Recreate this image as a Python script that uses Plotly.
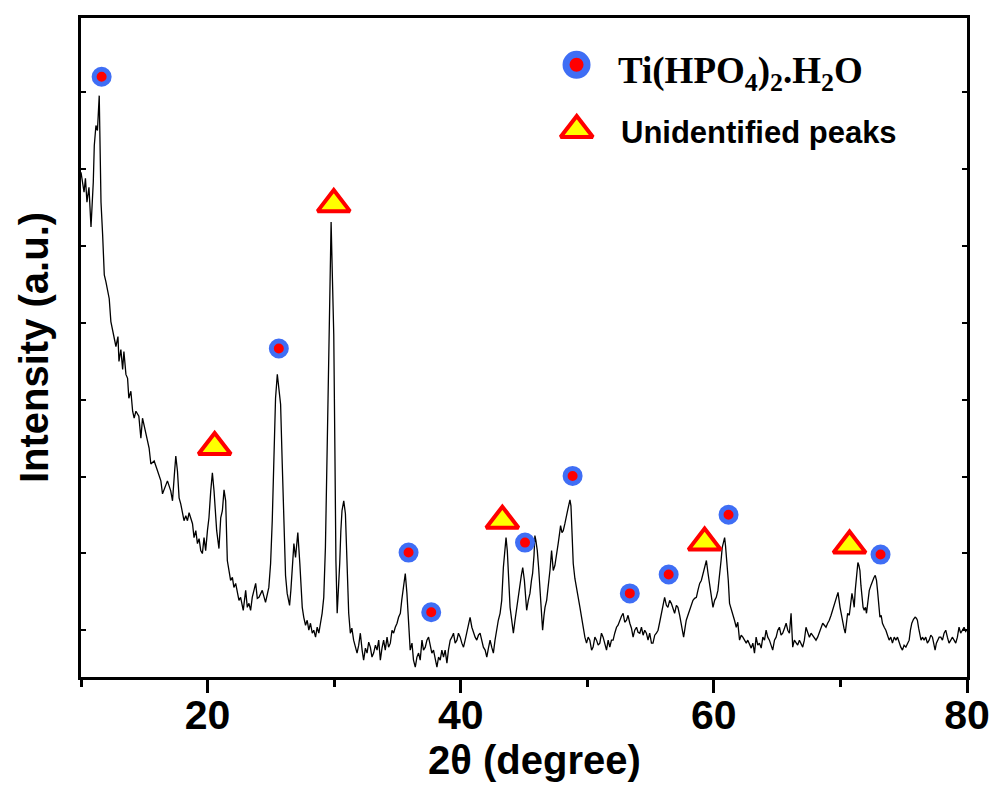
import plotly.graph_objects as go

# ---------------- data ----------------
two_theta = [
    10.00, 10.24, 10.35, 10.47, 10.63, 10.79, 10.97, 11.05, 11.18, 11.30, 11.44, 11.58, 11.71, 11.84, 11.97,
    12.09, 12.23, 12.36, 12.52, 12.60, 12.76, 12.92, 13.00, 13.15, 13.29, 13.39, 13.55, 13.68, 13.78, 13.94,
    14.08, 14.20, 14.34, 14.57, 14.73, 14.86, 15.12, 15.38, 15.52, 15.78, 16.05, 16.31, 16.44, 16.70, 16.83,
    17.09, 17.23, 17.37, 17.49, 17.62, 17.75, 17.88, 18.14, 18.28, 18.41, 18.54, 18.81, 18.93, 19.07, 19.20,
    19.33, 19.46, 19.59, 19.72, 19.85, 19.99, 20.11, 20.25, 20.38, 20.51, 20.72, 20.90, 21.04, 21.17, 21.30,
    21.43, 21.56, 21.69, 21.82, 21.96, 22.08, 22.22, 22.35, 22.48, 22.61, 22.82, 23.01, 23.14, 23.27, 23.40,
    23.53, 23.80, 23.93, 24.06, 24.32, 24.58, 24.84, 24.98, 25.11, 25.24, 25.37, 25.51, 25.63, 25.77, 25.90,
    26.03, 26.16, 26.29, 26.48, 26.58, 26.69, 26.82, 26.95, 27.13, 27.29, 27.48, 27.60, 27.74, 27.87, 28.00,
    28.13, 28.27, 28.39, 28.53, 28.66, 28.79, 28.92, 29.05, 29.18, 29.31, 29.45, 29.57, 29.67, 29.76, 29.87,
    29.97, 30.06, 30.14, 30.24, 30.34, 30.44, 30.53, 30.62, 30.76, 30.89, 31.02, 31.15, 31.28, 31.40, 31.54,
    31.68, 31.81, 31.94, 32.07, 32.21, 32.33, 32.47, 32.60, 32.73, 32.86, 32.99, 33.12, 33.26, 33.39, 33.52,
    33.65, 33.78, 33.91, 34.04, 34.18, 34.30, 34.44, 34.57, 34.70, 34.83, 34.97, 35.09, 35.23, 35.34, 35.44,
    35.53, 35.62, 35.75, 35.88, 36.01, 36.15, 36.27, 36.41, 36.54, 36.67, 36.80, 36.94, 37.06, 37.20, 37.33,
    37.46, 37.59, 37.72, 37.85, 37.98, 38.12, 38.25, 38.38, 38.51, 38.64, 38.77, 38.91, 39.03, 39.17, 39.30,
    39.43, 39.56, 39.70, 39.82, 39.96, 40.09, 40.22, 40.35, 40.48, 40.61, 40.74, 40.88, 41.00, 41.14, 41.27,
    41.40, 41.53, 41.67, 41.79, 41.93, 42.06, 42.19, 42.32, 42.45, 42.58, 42.71, 42.85, 42.97, 43.11, 43.24,
    43.37, 43.48, 43.58, 43.68, 43.76, 43.90, 44.03, 44.16, 44.29, 44.42, 44.55, 44.69, 44.79, 44.90, 45.03,
    45.12, 45.21, 45.34, 45.47, 45.59, 45.68, 45.79, 45.86, 45.94, 46.05, 46.16, 46.26, 46.36, 46.47, 46.58,
    46.66, 46.79, 46.92, 47.05, 47.18, 47.31, 47.44, 47.58, 47.70, 47.84, 47.89, 48.00, 48.10, 48.23, 48.31,
    48.42, 48.49, 48.56, 48.63, 48.71, 48.76, 48.83, 48.89, 49.02, 49.16, 49.28, 49.42, 49.55, 49.68, 49.81,
    49.94, 50.07, 50.20, 50.34, 50.46, 50.60, 50.73, 50.86, 50.99, 51.12, 51.25, 51.39, 51.52, 51.65, 51.78,
    51.91, 52.04, 52.17, 52.31, 52.43, 52.57, 52.70, 52.83, 52.96, 53.10, 53.22, 53.36, 53.49, 53.62, 53.75,
    53.89, 54.01, 54.15, 54.28, 54.41, 54.54, 54.67, 54.80, 54.93, 55.07, 55.19, 55.33, 55.46, 55.59, 55.72,
    55.85, 55.98, 56.11, 56.25, 56.37, 56.51, 56.64, 56.77, 56.90, 57.04, 57.16, 57.30, 57.43, 57.61, 57.72,
    57.82, 57.95, 58.09, 58.22, 58.35, 58.48, 58.62, 58.74, 58.88, 59.01, 59.14, 59.27, 59.41, 59.53, 59.67,
    59.80, 59.93, 60.06, 60.19, 60.32, 60.45, 60.57, 60.66, 60.77, 60.85, 60.92, 61.03, 61.14, 61.24, 61.37,
    61.50, 61.63, 61.77, 61.89, 62.03, 62.16, 62.29, 62.42, 62.56, 62.68, 62.82, 62.95, 63.08, 63.21, 63.34,
    63.47, 63.60, 63.74, 63.87, 64.00, 64.13, 64.26, 64.39, 64.53, 64.65, 64.79, 64.92, 65.05, 65.18, 65.31,
    65.44, 65.58, 65.71, 65.84, 65.97, 66.10, 66.23, 66.36, 66.49, 66.62, 66.76, 66.89, 67.02, 67.15, 67.28,
    67.41, 67.55, 67.68, 67.81, 67.94, 68.07, 68.20, 68.33, 68.47, 68.60, 68.73, 68.86, 68.99, 69.12, 69.26,
    69.38, 69.52, 69.65, 69.81, 69.97, 70.07, 70.17, 70.28, 70.38, 70.48, 70.57, 70.70, 70.80, 70.91, 71.01,
    71.09, 71.17, 71.23, 71.31, 71.38, 71.46, 71.54, 71.62, 71.70, 71.79, 71.88, 71.98, 72.06, 72.17, 72.28,
    72.41, 72.54, 72.65, 72.75, 72.85, 72.93, 73.03, 73.12, 73.22, 73.32, 73.46, 73.59, 73.72, 73.85, 73.98,
    74.11, 74.25, 74.38, 74.51, 74.64, 74.77, 74.90, 75.03, 75.17, 75.29, 75.43, 75.53, 75.64, 75.77, 75.90,
    76.00, 76.08, 76.18, 76.27, 76.37, 76.48, 76.61, 76.74, 76.87, 77.01, 77.14, 77.27, 77.38, 77.48, 77.58,
    77.66, 77.80, 77.93, 78.06, 78.19, 78.32, 78.45, 78.58, 78.72, 78.84, 78.98, 79.11, 79.24, 79.37, 79.50,
    79.63, 79.77, 79.92,
]
intensity = [
    507, 487, 501, 477, 492, 452, 497, 534, 554, 549, 584, 477, 444, 404, 397,
    387, 380, 357, 347, 344, 332, 342, 317, 329, 309, 327, 304, 300, 280, 287,
    267, 260, 267, 262, 240, 260, 244, 230, 214, 217, 207, 197, 184, 194, 197,
    187, 177, 202, 222, 207, 180, 174, 157, 162, 157, 165, 154, 140, 147, 134,
    139, 127, 124, 140, 127, 147, 160, 187, 205, 187, 147, 129, 160, 167, 188,
    177, 117, 107, 97, 100, 90, 94, 87, 77, 80, 67, 87, 70, 74, 67,
    80, 94, 79, 80, 87, 75, 90, 114, 157, 214, 280, 304, 287, 274, 214,
    147, 102, 84, 72, 87, 107, 134, 120, 145, 114, 70, 60, 52, 57, 47,
    54, 44, 47, 40, 50, 44, 54, 64, 80, 130, 230, 337, 417, 457, 397,
    344, 227, 117, 64, 87, 114, 147, 167, 177, 164, 114, 64, 44, 49, 37,
    30, 24, 32, 44, 27, 17, 29, 24, 35, 30, 20, 24, 32, 27, 37,
    17, 29, 37, 27, 40, 30, 34, 47, 44, 50, 54, 60, 64, 77, 87,
    97, 104, 84, 57, 27, 34, 17, 10, 20, 24, 17, 37, 27, 30, 37,
    40, 32, 24, 27, 17, 10, 20, 17, 27, 20, 27, 14, 27, 37, 40,
    44, 34, 37, 44, 40, 34, 30, 37, 44, 52, 60, 50, 44, 40, 37,
    42, 44, 37, 30, 27, 20, 29, 37, 30, 24, 37, 50, 57, 64, 77,
    110, 127, 140, 127, 110, 70, 57, 44, 57, 70, 82, 94, 102, 110, 97,
    82, 67, 77, 84, 97, 104, 122, 142, 137, 127, 109, 90, 67, 47, 62,
    70, 77, 90, 107, 127, 107, 112, 122, 134, 147, 152, 145, 147, 154, 160,
    165, 170, 174, 178, 172, 157, 137, 114, 99, 90, 80, 70, 60, 47, 40,
    34, 40, 37, 27, 30, 40, 37, 32, 34, 44, 40, 32, 27, 37, 30,
    37, 37, 44, 50, 52, 57, 61, 64, 55, 57, 62, 54, 49, 40, 47,
    50, 45, 44, 50, 42, 47, 44, 37, 44, 34, 34, 42, 44, 47, 55,
    64, 74, 80, 72, 70, 77, 74, 69, 64, 72, 70, 62, 54, 40, 49,
    57, 62, 67, 72, 77, 79, 80, 87, 94, 97, 104, 110, 117, 105, 94,
    82, 70, 77, 80, 87, 100, 117, 130, 137, 140, 132, 117, 97, 74, 69,
    64, 57, 50, 55, 37, 42, 40, 37, 34, 37, 32, 29, 34, 24, 40,
    32, 34, 29, 40, 37, 47, 40, 37, 32, 27, 37, 40, 47, 50, 42,
    44, 49, 54, 47, 44, 64, 30, 37, 34, 32, 37, 34, 30, 37, 50,
    45, 40, 44, 42, 39, 37, 40, 44, 49, 54, 52, 50, 54, 57, 62,
    67, 74, 80, 85, 70, 62, 57, 49, 44, 57, 64, 62, 72, 84, 77,
    70, 87, 97, 107, 115, 112, 107, 92, 77, 70, 67, 70, 64, 74, 87,
    92, 97, 100, 102, 97, 87, 72, 60, 62, 54, 50, 47, 42, 37, 40,
    34, 40, 37, 40, 34, 30, 27, 32, 30, 34, 37, 47, 54, 58, 60,
    59, 57, 49, 44, 37, 40, 37, 40, 34, 37, 42, 40, 32, 27, 34,
    37, 40, 40, 37, 44, 47, 40, 34, 37, 40, 37, 34, 40, 50, 44,
    47, 50, 45,
]

# Ti(HPO4)2.H2O reflections (marker positions)
tip_theta = [11.63, 25.63, 35.88, 37.67, 45.08, 48.84, 53.36, 56.43, 61.16, 73.17]
tip_int = [603, 330, 125, 65, 135, 202, 84, 103, 163, 123]

# Unidentified peaks (marker positions)
unk_theta = [20.56, 29.97, 43.29, 59.27, 70.72]
unk_int = [231, 475, 157, 135, 132]

# labels
label_tip = "Ti(HPO<sub>4</sub>)<sub>2</sub>.H<sub>2</sub>O"
label_unk = "Unidentified peaks"
x_title = "2θ (degree)"
y_title = "Intensity (a.u.)"

BLUE = "#3f6ef5"
RED = "#ff0000"
YELLOW = "#ffff00"

fig = go.Figure()

fig.add_trace(go.Scatter(
    x=two_theta, y=intensity, mode="lines",
    line=dict(color="black", width=1.3), showlegend=False, hoverinfo="skip",
))
fig.add_trace(go.Scatter(
    x=tip_theta, y=tip_int, mode="markers", name="Ti(HPO4)2.H2O",
    marker=dict(symbol="circle", size=15, color=RED, line=dict(color=BLUE, width=5)),
    showlegend=False,
))
fig.add_trace(go.Scatter(
    x=unk_theta, y=unk_int, mode="markers", name=label_unk,
    marker=dict(symbol="triangle-up", size=28, color=YELLOW, line=dict(color=RED, width=4)),
    showlegend=False,
))

# hand-made legend on an overlay axis pair spanning the plot area
fig.add_trace(go.Scatter(
    x=[0.5593], y=[0.929], xaxis="x2", yaxis="y2", mode="markers",
    marker=dict(symbol="circle", size=21, color=RED, line=dict(color=BLUE, width=7)),
    showlegend=False, hoverinfo="skip",
))
fig.add_trace(go.Scatter(
    x=[0.5595], y=[0.830], xaxis="x2", yaxis="y2", mode="markers",
    marker=dict(symbol="triangle-up", size=28, color=YELLOW, line=dict(color=RED, width=4)),
    showlegend=False, hoverinfo="skip",
))

fig.add_annotation(
    x=0.604, y=0.916, xref="paper", yref="paper", xanchor="left", yanchor="middle",
    text="<b>" + label_tip + "</b>", showarrow=False,
    font=dict(family="Liberation Serif", size=37, color="black"),
)
fig.add_annotation(
    x=0.607, y=0.8265, xref="paper", yref="paper", xanchor="left", yanchor="middle",
    text="<b>" + label_unk + "</b>", showarrow=False,
    font=dict(family="Liberation Sans", size=31, color="black"),
)
# x-axis title (placed as annotation for exact horizontal position)
fig.add_annotation(
    x=0.512, y=-0.1267, xref="paper", yref="paper", xanchor="center", yanchor="middle",
    text=x_title, showarrow=False,
    font=dict(family="Liberation Sans", size=40, weight="bold", color="black"),
)

# the page adds an 8 px body margin, so the figure is 8 px smaller and shifted
fig.update_layout(
    width=990, height=780,
    margin=dict(l=73, r=31, t=7, b=111),
    paper_bgcolor="white", plot_bgcolor="white",
    showlegend=False,
    font=dict(family="Liberation Sans", color="black"),
    xaxis=dict(
        range=[10, 80], tick0=0, dtick=20,
        showline=True, linecolor="black", linewidth=3, mirror=True,
        ticks="outside", ticklen=13, tickwidth=3, tickcolor="black",
        minor=dict(dtick=10, tick0=0, ticks="outside", ticklen=7, tickwidth=3, tickcolor="black"),
        showgrid=False, zeroline=False, ticklabelstandoff=-13,
        tickfont=dict(family="Liberation Sans", size=41, weight="bold", color="black"),
    ),
    yaxis=dict(
        range=[0, 662], tick0=47, dtick=77.2,
        showline=True, linecolor="black", linewidth=3, mirror="ticks",
        ticks="inside", ticklen=5, tickwidth=2, tickcolor="black",
        showticklabels=False, showgrid=False, zeroline=False,
        title=dict(text=y_title, standoff=18,
                   font=dict(family="Liberation Sans", size=40, weight="bold", color="black")),
    ),
    xaxis2=dict(overlaying="x", range=[0, 1], visible=False, anchor="y2"),
    yaxis2=dict(overlaying="y", range=[0, 1], visible=False, anchor="x2"),
)

fig.write_html("out.html")
